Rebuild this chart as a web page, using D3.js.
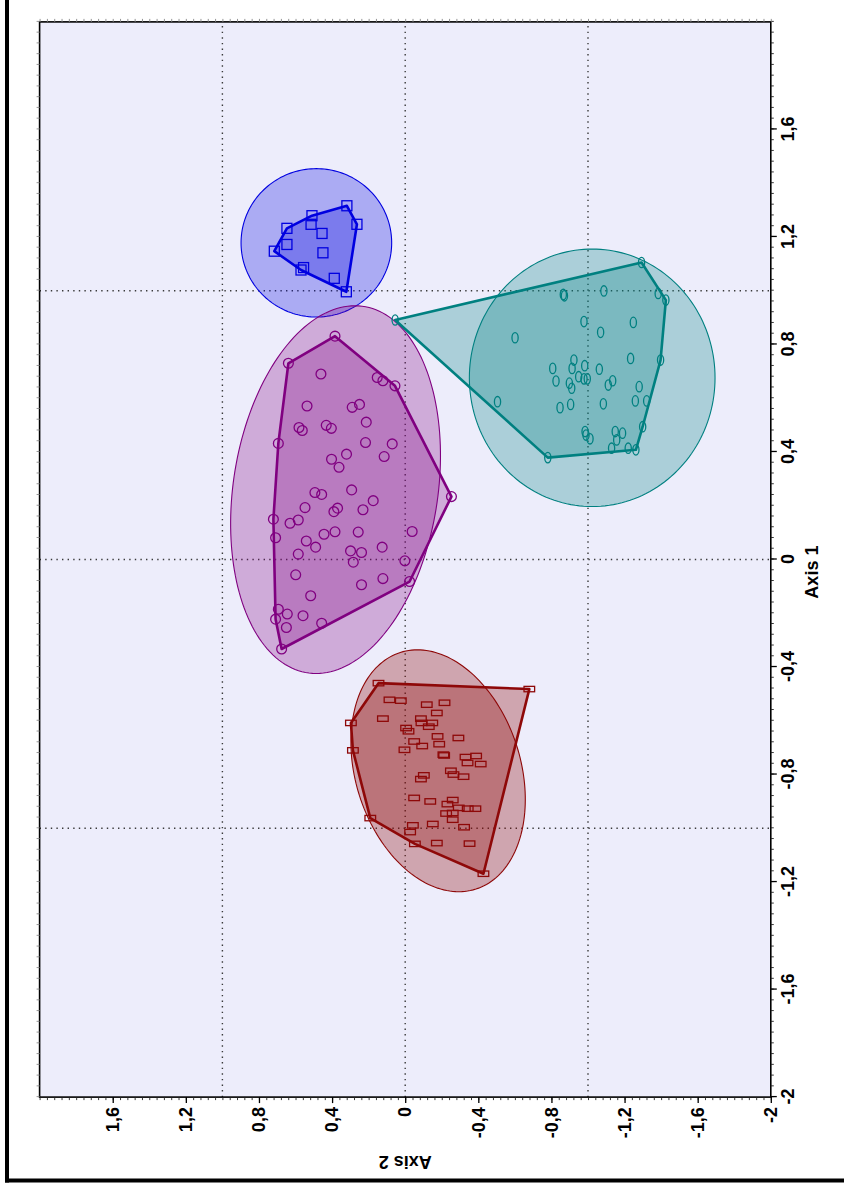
<!DOCTYPE html>
<html>
<head>
<meta charset="utf-8">
<script src="https://cdn.jsdelivr.net/npm/d3@7"></script>
<style>
  body { margin: 0; background: #ffffff; }
  svg { display: block; }
  text { font-family: "Liberation Sans", Arial, sans-serif; font-weight: bold; }
</style>
</head>
<body>
<svg id="chart" width="844" height="1193"></svg>
<script>
// Group scores, each point as [Axis 1, Axis 2]
const bluePoints = [
  [1.147, 0.716], [1.232, 0.647], [1.172, 0.647], [1.279, 0.510], [1.247, 0.515],
  [1.213, 0.455], [1.141, 0.450], [1.077, 0.570], [1.086, 0.556], [1.046, 0.388],
  [1.316, 0.319], [1.247, 0.264], [0.996, 0.322]
];
const purplePoints = [
  [0.831, 0.384], [0.730, 0.639], [0.690, 0.461], [0.677, 0.153], [0.665, 0.122],
  [0.646, 0.056], [0.571, 0.537], [0.566, 0.290], [0.577, 0.250], [0.511, 0.213],
  [0.491, 0.581], [0.480, 0.563], [0.499, 0.432], [0.488, 0.404], [0.432, 0.694],
  [0.435, 0.217], [0.430, 0.071], [0.392, 0.321], [0.373, 0.403], [0.343, 0.362],
  [0.383, 0.115], [0.249, 0.494], [0.242, 0.457], [0.259, 0.293], [0.219, 0.175],
  [0.193, 0.548], [0.178, 0.390], [0.191, 0.370], [0.185, 0.231], [0.150, 0.721],
  [0.135, 0.630], [0.147, 0.585], [0.081, 0.709], [0.069, 0.541], [0.046, 0.490],
  [0.094, 0.444], [0.103, 0.384], [0.102, 0.257], [0.234, -0.253], [0.104, -0.038],
  [0.020, 0.585], [0.032, 0.299], [0.026, 0.239], [-0.010, 0.284], [0.046, 0.126],
  [-0.005, 0.002], [-0.057, 0.599], [-0.094, 0.239], [-0.071, 0.122], [-0.082, -0.024],
  [-0.135, 0.517], [-0.185, 0.694], [-0.203, 0.645], [-0.222, 0.709], [-0.253, 0.650],
  [-0.209, 0.559], [-0.237, 0.457], [-0.333, 0.676]
];
const tealPoints = [
  [0.891, 0.055], [1.105, -1.293], [0.965, -1.426], [0.986, -0.865], [0.981, -0.871],
  [0.999, -1.087], [0.990, -1.384], [0.885, -0.978], [0.845, -1.069], [0.882, -1.248],
  [0.825, -0.601], [0.748, -1.233], [0.742, -1.397], [0.742, -0.923], [0.711, -0.913],
  [0.721, -0.982], [0.711, -0.807], [0.664, -0.825], [0.656, -0.898], [0.637, -0.911],
  [0.680, -0.949], [0.672, -0.978], [0.672, -0.996], [0.708, -1.062], [0.665, -1.135],
  [0.649, -1.111], [0.643, -1.280], [0.587, -0.505], [0.565, -0.847], [0.577, -0.905],
  [0.579, -1.084], [0.590, -1.259], [0.590, -1.321], [0.494, -1.299], [0.476, -0.984],
  [0.463, -0.989], [0.449, -1.011], [0.476, -1.149], [0.470, -1.189], [0.445, -1.157],
  [0.379, -0.780], [0.414, -1.129], [0.414, -1.220], [0.408, -1.262]
];
const redPoints = [
  [-0.460, 0.146], [-0.482, -0.679], [-0.608, 0.297], [-0.710, 0.286], [-0.962, 0.191],
  [-1.169, -0.428], [-0.522, 0.086], [-0.525, 0.024], [-0.540, -0.118], [-0.533, -0.215],
  [-0.571, -0.173], [-0.592, 0.122], [-0.592, -0.086], [-0.608, -0.089], [-0.608, -0.148],
  [-0.622, -0.129], [-0.627, -0.005], [-0.639, -0.018], [-0.677, -0.049], [-0.694, -0.093],
  [-0.708, 0.004], [-0.658, -0.177], [-0.687, -0.186], [-0.664, -0.291], [-0.726, -0.209],
  [-0.729, -0.213], [-0.735, -0.330], [-0.731, -0.388], [-0.757, -0.341], [-0.761, -0.413],
  [-0.786, -0.250], [-0.800, -0.264], [-0.808, -0.319], [-0.803, -0.102], [-0.817, -0.086],
  [-0.887, -0.049], [-0.900, -0.137], [-0.895, -0.260], [-0.910, -0.231], [-0.924, -0.293],
  [-0.927, -0.342], [-0.927, -0.384], [-0.945, -0.224], [-0.943, -0.260], [-0.968, -0.260],
  [-0.989, -0.042], [-0.984, -0.151], [-1.014, -0.027], [-0.996, -0.322], [-1.058, -0.053],
  [-1.055, -0.173], [-1.057, -0.352]
];

// 95% ellipse per group: centre, spread along each axis, correlation
const groupNames     = ["blue", "purple", "teal", "red"];
const groupColors    = ["#0000e0", "#800080", "#008080", "#8e0808"];
const groupOpacity   = [0.28, 0.28, 0.28, 0.31];
const groupMarkers   = ["square", "circle", "oval", "rect"];
const ellipseCenter1 = [1.178, 0.260, 0.676, -0.786];
const ellipseCenter2 = [0.486, 0.381, -1.023, -0.180];
const ellipseSpread1 = [0.276, 0.684, 0.479, 0.450];
const ellipseSpread2 = [0.412, 0.574, 0.672, 0.477];
const ellipseCorr    = [0.000, -0.185, 0.000, 0.237];

const axisTicks = [-2, -1.6, -1.2, -0.8, -0.4, 0, 0.4, 0.8, 1.2, 1.6];
const gridValues = [-1, 0, 1];
const axis1Title = "Axis 1";
const axis2Title = "Axis 2";

const groupPoints = [bluePoints, purplePoints, tealPoints, redPoints];

// The plot is laid out with Axis 1 horizontal, then turned a quarter turn
const W = 1075.2, H = 731.2;
const svg = d3.select("#chart");

// outer frame strokes
svg.append("line").attr("x1", 7).attr("y1", 0).attr("x2", 7).attr("y2", 1182.5)
  .attr("stroke", "#000").attr("stroke-width", 4);
svg.append("line").attr("x1", 5).attr("y1", 1180.5).attr("x2", 844).attr("y2", 1180.5)
  .attr("stroke", "#000").attr("stroke-width", 4);

const g = svg.append("g").attr("transform", "translate(39.6,1097.1) rotate(-90)");

const x = d3.scaleLinear().domain([-2, 2]).range([0, W]);   // Axis 1
const y = d3.scaleLinear().domain([2, -2]).range([0, H]);   // Axis 2

g.append("rect").attr("width", W).attr("height", H).attr("fill", "#ededfb");

// dotted reference lines
g.append("g").selectAll("line.gx").data(gridValues).join("line")
  .attr("x1", d => x(d)).attr("x2", d => x(d)).attr("y1", 0).attr("y2", H)
  .attr("stroke", "#3a3a3a").attr("stroke-width", 1.4).attr("stroke-dasharray", "1.4,4.2");
g.append("g").selectAll("line.gy").data(gridValues).join("line")
  .attr("y1", d => y(d)).attr("y2", d => y(d)).attr("x1", 0).attr("x2", W)
  .attr("stroke", "#3a3a3a").attr("stroke-width", 1.4).attr("stroke-dasharray", "1.4,4.2");

const fmt = d => {
  if (Math.abs(d) < 1e-9) return "0";
  const s = Number.isInteger(d) ? String(Math.abs(d)) : Math.abs(d).toFixed(1).replace(".", ",");
  return (d < 0 ? "-" : "") + s;
};

// ellipse outline from centre, spreads and correlation
function ellipsePath(i) {
  const c1 = ellipseCenter1[i], c2 = ellipseCenter2[i];
  const s1 = ellipseSpread1[i], s2 = ellipseSpread2[i], r = ellipseCorr[i];
  const k = Math.sqrt(1 - r * r);
  const pts = d3.range(0, 360, 2).map(deg => {
    const t = deg * Math.PI / 180;
    const a1 = c1 + s1 * Math.cos(t);
    const a2 = c2 + s2 * (r * Math.cos(t) + k * Math.sin(t));
    return [x(a1), y(a2)];
  });
  return d3.line().curve(d3.curveLinearClosed)(pts);
}

groupNames.forEach((name, i) => {
  const col = groupColors[i];
  const pts = groupPoints[i];
  const grp = g.append("g").attr("class", "group-" + name);

  grp.append("path").attr("d", ellipsePath(i))
    .attr("fill", col).attr("fill-opacity", groupOpacity[i])
    .attr("stroke", col).attr("stroke-width", 1.1);

  const hull = d3.polygonHull(pts.map(p => [x(p[0]), y(p[1])]));
  grp.append("path").attr("d", "M" + hull.join("L") + "Z")
    .attr("fill", col).attr("fill-opacity", groupOpacity[i])
    .attr("stroke", col).attr("stroke-width", 2.6).attr("stroke-linejoin", "round");

  const m = grp.append("g").attr("fill", "none").attr("stroke", col).attr("stroke-width", 1.3);
  const kind = groupMarkers[i];
  if (kind === "square") {
    m.selectAll("rect").data(pts).join("rect")
      .attr("x", d => x(d[0]) - 5).attr("y", d => y(d[1]) - 5)
      .attr("width", 10).attr("height", 10);
  } else if (kind === "circle") {
    m.selectAll("circle").data(pts).join("circle")
      .attr("cx", d => x(d[0])).attr("cy", d => y(d[1])).attr("r", 4.9);
  } else if (kind === "oval") {
    m.selectAll("ellipse").data(pts).join("ellipse")
      .attr("cx", d => x(d[0])).attr("cy", d => y(d[1])).attr("rx", 5.2).attr("ry", 3.1);
  } else {
    m.selectAll("rect").data(pts).join("rect")
      .attr("x", d => x(d[0]) - 2.7).attr("y", d => y(d[1]) - 5.3)
      .attr("width", 5.4).attr("height", 10.6);
  }
});

// frame
g.append("rect").attr("width", W).attr("height", H)
  .attr("fill", "none").attr("stroke", "#000").attr("stroke-width", 1.6);

// minor ticks on every side
const minor = d3.range(-2, 2.0001, 0.04);
const minorAxis = (axis, tr, col) => {
  const a = g.append("g").attr("transform", tr)
    .call(axis.tickValues(minor).tickSize(3).tickFormat(""));
  a.select(".domain").remove();
  a.selectAll("line").attr("stroke", col).attr("stroke-width", 0.9);
};
minorAxis(d3.axisBottom(x), `translate(0,${H})`, "#222");
minorAxis(d3.axisLeft(y), "translate(0,0)", "#222");
minorAxis(d3.axisTop(x), "translate(0,0)", "#888");
minorAxis(d3.axisRight(y), `translate(${W},0)`, "#888");

// labelled axes
const ax1 = g.append("g").attr("transform", `translate(0,${H})`)
  .call(d3.axisBottom(x).tickValues(axisTicks).tickSize(6).tickPadding(4).tickFormat(fmt));
ax1.select(".domain").remove();
ax1.selectAll("line").attr("stroke", "#000").attr("stroke-width", 1.3);
ax1.selectAll("text").attr("font-size", 18).attr("fill", "#000")
  .attr("font-family", "Liberation Sans, Arial, sans-serif").attr("font-weight", "bold");

const ax2 = g.append("g")
  .call(d3.axisLeft(y).tickValues(axisTicks).tickSize(6).tickPadding(4).tickFormat(fmt));
ax2.select(".domain").remove();
ax2.selectAll("line").attr("stroke", "#000").attr("stroke-width", 1.3);
ax2.selectAll("text").attr("font-size", 18).attr("fill", "#000")
  .attr("font-family", "Liberation Sans, Arial, sans-serif").attr("font-weight", "bold");

// axis titles
g.append("text").attr("x", 525).attr("y", H + 47).attr("text-anchor", "middle")
  .attr("font-size", 18).text(axis1Title);
g.append("text").attr("transform", `translate(-58.4,${H / 2}) rotate(-90)`)
  .attr("text-anchor", "middle").attr("font-size", 18).text(axis2Title);
</script>
</body>
</html>
